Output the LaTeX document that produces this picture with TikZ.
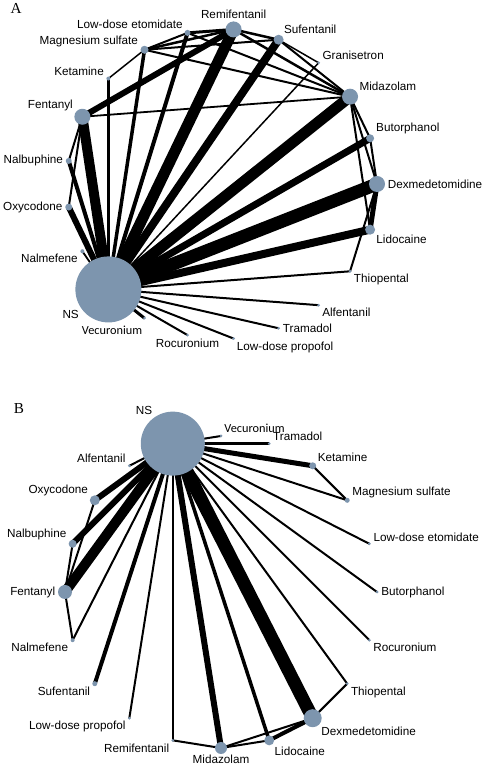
\documentclass[tikz,border=0pt]{standalone}
\usepackage{fontspec}
\setmainfont{Liberation Serif}
\setsansfont{Liberation Sans}
\newfontfamily\vecfont{Carlito}
\usetikzlibrary{backgrounds}
\definecolor{nodeblue}{RGB}{125,149,174}

\begin{document}
\begin{tikzpicture}[
    x=0.03cm, y=0.03cm,
    drug/.style={circle, fill=nodeblue, inner sep=0pt, minimum size=#1*0.03cm},
    lbl/.style={font=\sffamily\fontsize{10}{12}\selectfont, inner sep=1pt},
    every label/.style={lbl},
    label distance=1pt,
    link/.style={line width=#1*0.03cm, black},
    panel/.style={font=\fontsize{13}{15}\selectfont}
]
\useasboundingbox (0,0) rectangle (484,768);

% panel A
\node[panel] (letA) at (16,760) {A};
\begin{scope}[shift={(222,584)}]
\node[drug=16, label={0:Dexmedetomidine}] (aDex) at (0:155) {};
\node[drug=8, label={30:Butorphanol}] (aBut) at (17.14:155) {};
\node[drug=16, label={30:Midazolam}] (aMid) at (34.29:155) {};
\node[drug=3, label={30:Granisetron}] (aGra) at (51.43:155) {};
\node[drug=10, label={50:Sufentanil}] (aSuf) at (68.57:155) {};
\node[drug=16, label={90:Remifentanil}] (aRem) at (85.71:155) {};
\node[drug=6, label={140:Low-dose etomidate}] (aLde) at (102.86:155) {};
\node[drug=8, label={160:Magnesium sulfate}] (aMgs) at (120:155) {};
\node[drug=4, label={160:Ketamine}] (aKet) at (137.14:155) {};
\node[drug=16, label={150:Fentanyl}] (aFen) at (154.29:155) {};
\node[drug=6, label={180:Nalbuphine}] (aNab) at (171.43:155) {};
\node[drug=7, label={180:Oxycodone}] (aOxy) at (188.57:155) {};
\node[drug=4, label={200:Nalmefene}] (aNam) at (205.71:155) {};
\node[drug=66, label={215:NS}] (aNS) at (222.86:155) {};
\node[drug=3, label={[font=\vecfont\fontsize{10.5}{12}\selectfont, label distance=4pt]262:Vecuronium}] (aVec) at (240:155) {};
\node[drug=3, label={270:Rocuronium}] (aRoc) at (257.14:155) {};
\node[drug=3, label={-50:Low-dose propofol}] (aLdp) at (274.29:155) {};
\node[drug=3, label={0:Tramadol}] (aTra) at (291.43:155) {};
\node[drug=3, label={-40:Alfentanil}] (aAlf) at (308.57:155) {};
\node[drug=3, label={-30:Thiopental}] (aThi) at (325.71:155) {};
\node[drug=10, label={-40:Lidocaine}] (aLid) at (342.86:155) {};
\end{scope}

\begin{scope}[on background layer]
% NS comparisons
\draw[link=10] (aNS.center) -- (aFen.center);
\draw[link=4] (aNS.center) -- (aNab.center);
\draw[link=6] (aNS.center) -- (aOxy.center);
\draw[link=1.8] (aNS.center) -- (aNam.center);
\draw[link=3] (aNS.center) -- (aKet.center);
\draw[link=3.5] (aNS.center) -- (aMgs.center);
\draw[link=4] (aNS.center) -- (aLde.center);
\draw[link=11] (aNS.center) -- (aRem.center);
\draw[link=8] (aNS.center) -- (aSuf.center);
\draw[link=1.5] (aNS.center) -- (aGra.center);
\draw[link=11] (aNS.center) -- (aMid.center);
\draw[link=7] (aNS.center) -- (aBut.center);
\draw[link=13] (aNS.center) -- (aDex.center);
\draw[link=8] (aNS.center) -- (aLid.center);
\draw[link=2] (aNS.center) -- (aThi.center);
\draw[link=2] (aNS.center) -- (aAlf.center);
\draw[link=2] (aNS.center) -- (aTra.center);
\draw[link=2] (aNS.center) -- (aLdp.center);
\draw[link=2] (aNS.center) -- (aRoc.center);
\draw[link=3] (aNS.center) -- (aVec.center);
% other comparisons
\draw[link=2] (aFen.center) -- (aNab.center);
\draw[link=2] (aFen.center) -- (aOxy.center);
\draw[link=6] (aFen.center) -- (aRem.center);
\draw[link=1.8] (aFen.center) -- (aMid.center);
\draw[link=1.5] (aKet.center) -- (aMgs.center);
\draw[link=2] (aMgs.center) -- (aLde.center);
\draw[link=2.5] (aMgs.center) -- (aRem.center);
\draw[link=2] (aMgs.center) -- (aSuf.center);
\draw[link=2] (aMgs.center) -- (aMid.center);
\draw[link=3] (aLde.center) -- (aRem.center);
\draw[link=2] (aLde.center) -- (aMid.center);
\draw[link=2.5] (aRem.center) -- (aSuf.center);
\draw[link=2.5] (aRem.center) -- (aMid.center);
\draw[link=2] (aSuf.center) -- (aMid.center);
\draw[link=1.5] (aSuf.center) -- (aGra.center);
\draw[link=2] (aMid.center) -- (aBut.center);
\draw[link=2] (aMid.center) -- (aDex.center);
\draw[link=2] (aMid.center) -- (aLid.center);
\draw[link=2] (aBut.center) -- (aDex.center);
\draw[link=5] (aDex.center) -- (aLid.center);
\draw[link=2] (aDex.center) -- (aThi.center);
\end{scope}

% panel B
\node[panel] (letB) at (19,359) {B};
\begin{scope}[shift={(221,176)}]
\node[drug=3, label={0:Butorphanol}] (bBut) at (0:156) {};
\node[drug=3, label={20:Low-dose etomidate}] (bLde) at (18:156) {};
\node[drug=5, label={15:Magnesium sulfate}] (bMgs) at (36:156) {};
\node[drug=7, label={40:Ketamine}] (bKet) at (54:156) {};
\node[drug=3, label={30:Tramadol}] (bTra) at (72:156) {};
\node[drug=3, label={[font=\vecfont\fontsize{10.5}{12}\selectfont]45:Vecuronium}] (bVec) at (90:156) {};
\node[drug=64, label={125:NS}] (bNS) at (108:156) {};
\node[drug=3, label={150:Alfentanil}] (bAlf) at (126:156) {};
\node[drug=10, label={150:Oxycodone}] (bOxy) at (144:156) {};
\node[drug=8, label={155:Nalbuphine}] (bNab) at (162:156) {};
\node[drug=14, label={180:Fentanyl}] (bFen) at (180:156) {};
\node[drug=4, label={200:Nalmefene}] (bNam) at (198:156) {};
\node[drug=5, label={210:Sufentanil}] (bSuf) at (216:156) {};
\node[drug=3, label={215:Low-dose propofol}] (bLdp) at (234:156) {};
\node[drug=3, label={220:Remifentanil}] (bRem) at (252:156) {};
\node[drug=12, label={[label distance=0pt, inner sep=0.5pt]270:Midazolam}] (bMid) at (270:156) {};
\node[drug=10, label={-50:Lidocaine}] (bLid) at (288:156) {};
\node[drug=18, label={-45:Dexmedetomidine}] (bDex) at (306:156) {};
\node[drug=3, label={-35:Thiopental}] (bThi) at (324:156) {};
\node[drug=3, label={-30:Rocuronium}] (bRoc) at (342:156) {};
\end{scope}

\begin{scope}[on background layer]
% NS comparisons
\draw[link=2] (bNS.center) -- (bVec.center);
\draw[link=2.5] (bNS.center) -- (bTra.center);
\draw[link=5] (bNS.center) -- (bKet.center);
\draw[link=2] (bNS.center) -- (bMgs.center);
\draw[link=2] (bNS.center) -- (bLde.center);
\draw[link=2] (bNS.center) -- (bBut.center);
\draw[link=2] (bNS.center) -- (bRoc.center);
\draw[link=2] (bNS.center) -- (bThi.center);
\draw[link=13] (bNS.center) -- (bDex.center);
\draw[link=3.5] (bNS.center) -- (bLid.center);
\draw[link=6] (bNS.center) -- (bMid.center);
\draw[link=2] (bNS.center) -- (bRem.center);
\draw[link=2] (bNS.center) -- (bLdp.center);
\draw[link=4] (bNS.center) -- (bSuf.center);
\draw[link=2] (bNS.center) -- (bNam.center);
\draw[link=10] (bNS.center) -- (bFen.center);
\draw[link=6] (bNS.center) -- (bNab.center);
\draw[link=6] (bNS.center) -- (bOxy.center);
\draw[link=2] (bNS.center) -- (bAlf.center);
% other comparisons
\draw[link=2] (bKet.center) -- (bMgs.center);
\draw[link=2] (bOxy.center) -- (bFen.center);
\draw[link=2] (bNab.center) -- (bFen.center);
\draw[link=2] (bFen.center) -- (bNam.center);
\draw[link=2] (bRem.center) -- (bMid.center);
\draw[link=2] (bMid.center) -- (bLid.center);
\draw[link=2] (bMid.center) -- (bDex.center);
\draw[link=4] (bLid.center) -- (bDex.center);
\draw[link=2] (bDex.center) -- (bThi.center);
\end{scope}
\end{tikzpicture}
\end{document}
